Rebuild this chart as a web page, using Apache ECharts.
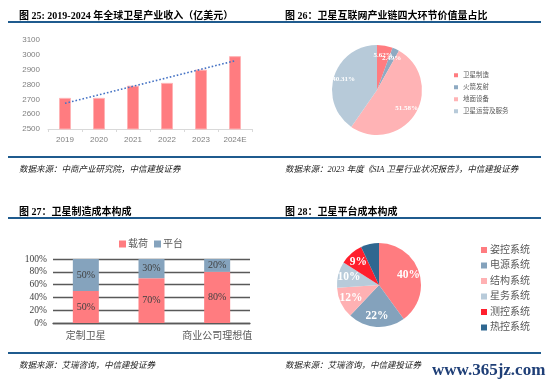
<!DOCTYPE html>
<html><head><meta charset="utf-8">
<script src="https://cdn.jsdelivr.net/npm/echarts@6/dist/echarts.min.js"></script>
<style>html,body{margin:0;padding:0;background:#fff}#c{width:550px;height:383px}</style>
</head><body><div id="c"></div>
<script>
// Chart 25: revenue
const years = ['2019','2020','2021','2022','2023','2024E'];
const revenue = [2710, 2710, 2792, 2811, 2900, 2991];
const trendEnds = [2673, null, null, null, null, 2960];
const revTicks = [2500, 3100, 100];
// Chart 26: value chain
const chainNames = ['卫星制造','火箭发射','地面设备','卫星运营及服务'];
const chainValues = [5.62, 2.49, 51.58, 40.31];
// Chart 27: manufacturing cost
const mfgCats = ['定制卫星','批量卫星','商业公司理想值'];
const payload = [50, 70, 80];
const platform = [50, 30, 20];
// Chart 28: platform cost
const platNames = ['姿控系统','电源系统','结构系统','星务系统','测控系统','热控系统'];
const platValues = [40, 22, 12, 10, 9, 7];

const SERIF = "'Liberation Serif','Times New Roman','Noto Sans CJK SC',serif";
const CJK = "'Liberation Serif','Noto Sans CJK SC',serif";
const BLUE = '#1f5b8e';
const chainColors = ['#ff7c80','#8eaac2','#ffb3b5','#b7cad9'];
const platColors = ['#ff7c80','#84a2bc','#ffb1b3','#b8cbda','#ff1f2d','#2f6790'];

const chart = echarts.init(document.getElementById('c'), null, {renderer:'canvas'});
const titleStyle = {fontFamily: CJK, fontSize: 10, fontWeight: 'bold', color: '#000'};
const srcStyle = {fontFamily: CJK, fontSize: 8.5, fontStyle: 'italic', fontWeight: 'normal', color: '#222'};

function hline(x1, x2, y) {
  return {type:'line', shape:{x1:x1, y1:y, x2:x2, y2:y}, style:{stroke:BLUE, lineWidth:2}, silent:true};
}

const option = {
  animation: false,
  title: [
    {text:'图 25: 2019-2024 年全球卫星产业收入（亿美元）', left:14, top:6, textStyle:titleStyle},
    {text:'图 26：卫星互联网产业链四大环节价值量占比', left:280, top:6, textStyle:titleStyle},
    {text:'图 27：卫星制造成本构成', left:14, top:202, textStyle:titleStyle},
    {text:'图 28：卫星平台成本构成', left:280, top:202, textStyle:titleStyle},
    {text:'数据来源：中商产业研究院，中信建投证券', left:14, top:161, textStyle:srcStyle},
    {text:'数据来源：2023 年度《SIA 卫星行业状况报告》，中信建投证券', left:280, top:161, textStyle:srcStyle},
    {text:'数据来源：艾瑞咨询，中信建投证券', left:14, top:357, textStyle:srcStyle},
    {text:'数据来源：艾瑞咨询，中信建投证券', left:280, top:357, textStyle:srcStyle},
    {text:'www.365jz.com', left:427, top:357, textStyle:{fontFamily:SERIF, fontSize:17, fontWeight:'bold', color:'#1f3f77'}}
  ],
  graphic: [hline(8, 541, 22), hline(8, 541, 157), hline(8, 541, 218), hline(8, 541, 353)],
  legend: [
    {data: chainNames, orient:'vertical', left:449, top:67, itemWidth:4, itemHeight:4, itemGap:5.5,
     icon:'rect', textStyle:{fontSize:6.5, color:'#595959', fontFamily:CJK}},
    {data: ['载荷','平台'], left:114, top:234, itemWidth:7, itemHeight:7, itemGap:6, icon:'rect',
     textStyle:{fontSize:10, color:'#595959', fontFamily:CJK, padding:[0,0,0,-3]}},
    {data: platNames, orient:'vertical', left:476, top:240, itemWidth:6, itemHeight:6, itemGap:5.5, icon:'rect',
     textStyle:{fontSize:10, color:'#595959', fontFamily:CJK, padding:[0,0,0,-2]}}
  ],
  grid: [
    {left:48, right:298, top:40, bottom:254},
    {left:53, right:300, top:259, bottom:60}
  ],
  xAxis: [
    {type:'category', gridIndex:0, data:years,
     axisLine:{lineStyle:{color:'#d9d9d9'}}, axisTick:{show:true, length:3, lineStyle:{color:'#d9d9d9'}},
     axisLabel:{color:'#808080', fontSize:8, fontFamily:"'Liberation Sans',sans-serif", margin:7}},
    {type:'category', gridIndex:1, data:mfgCats,
     axisLine:{lineStyle:{color:'#595959', width:1.3}}, axisTick:{show:false},
     axisLabel:{color:'#595959', fontSize:10, fontFamily:CJK, margin:8}}
  ],
  yAxis: [
    {type:'value', gridIndex:0, min:revTicks[0], max:revTicks[1], interval:revTicks[2],
     splitLine:{show:false}, axisLine:{show:false}, axisTick:{show:false},
     axisLabel:{color:'#808080', fontSize:8, fontFamily:"'Liberation Sans',sans-serif", margin:8,
       formatter: v => String(v)}},
    {type:'value', gridIndex:1, min:0, max:100, interval:20,
     splitLine:{lineStyle:{color:'#595959', width:1.3}}, axisLine:{show:false}, axisTick:{show:false},
     axisLabel:{color:'#404040', fontSize:9.5, fontFamily:SERIF, formatter:'{value}%', margin:6}}
  ],
  series: [
    {type:'bar', xAxisIndex:0, yAxisIndex:0, data:revenue, barWidth:12,
     itemStyle:{color:'#ff7c80', borderColor:'#ffb3b5', borderWidth:1}},
    {type:'line', xAxisIndex:0, yAxisIndex:0, data:trendEnds, connectNulls:true, symbol:'none',
     lineStyle:{color:'#4472c4', width:1.6, type:[1.6,2]}},
    {type:'pie', center:[377,90], radius:[0,45], startAngle:90, clockwise:true,
     data: chainNames.map((n,i)=>({name:n, value:chainValues[i], itemStyle:{color:chainColors[i]}})),
     label:{show:false}, labelLine:{show:false}},
    {type:'pie', center:[377,90], radius:[19,45], startAngle:90, clockwise:true, silent:true,
     avoidLabelOverlap:false, labelLayout:{hideOverlap:false},
     data: chainNames.map((n,i)=>({name:n+' ', value:chainValues[i], itemStyle:{color:'rgba(0,0,0,0)'}})),
     label:{show:true, position:'inside', formatter:'{c}%', color:'#fff', fontSize:7, fontWeight:'bold', fontFamily:SERIF},
     labelLine:{show:false}},
    {name:'载荷', type:'bar', xAxisIndex:1, yAxisIndex:1, stack:'s', data:payload, barWidth:26,
     itemStyle:{color:'#ff7c80'},
     label:{show:true, position:'inside', formatter:'{c}%', color:'#404040', fontSize:10, fontFamily:SERIF}},
    {name:'平台', type:'bar', xAxisIndex:1, yAxisIndex:1, stack:'s', data:platform, barWidth:26,
     itemStyle:{color:'#85a3bd'},
     label:{show:true, position:'inside', formatter:'{c}%', color:'#404040', fontSize:10, fontFamily:SERIF}},
    {type:'pie', center:[379,285], radius:[0,42], startAngle:90, clockwise:true,
     data: platNames.map((n,i)=>({name:n, value:platValues[i], itemStyle:{color:platColors[i]}})),
     label:{show:false}, labelLine:{show:false}},
    {type:'pie', center:[379,285], radius:[14,42], startAngle:90, clockwise:true, silent:true,
     avoidLabelOverlap:false,
     data: platNames.map((n,i)=>({name:n+' ', value:platValues[i], itemStyle:{color:'rgba(0,0,0,0)'},
       label:{show: i < 5}})),
     label:{show:true, position:'inside', formatter:'{c}%', color:'#fff', fontSize:11.5, fontWeight:'bold', fontFamily:SERIF},
     labelLine:{show:false}}
  ]
};
chart.setOption(option);
</script></body></html>
